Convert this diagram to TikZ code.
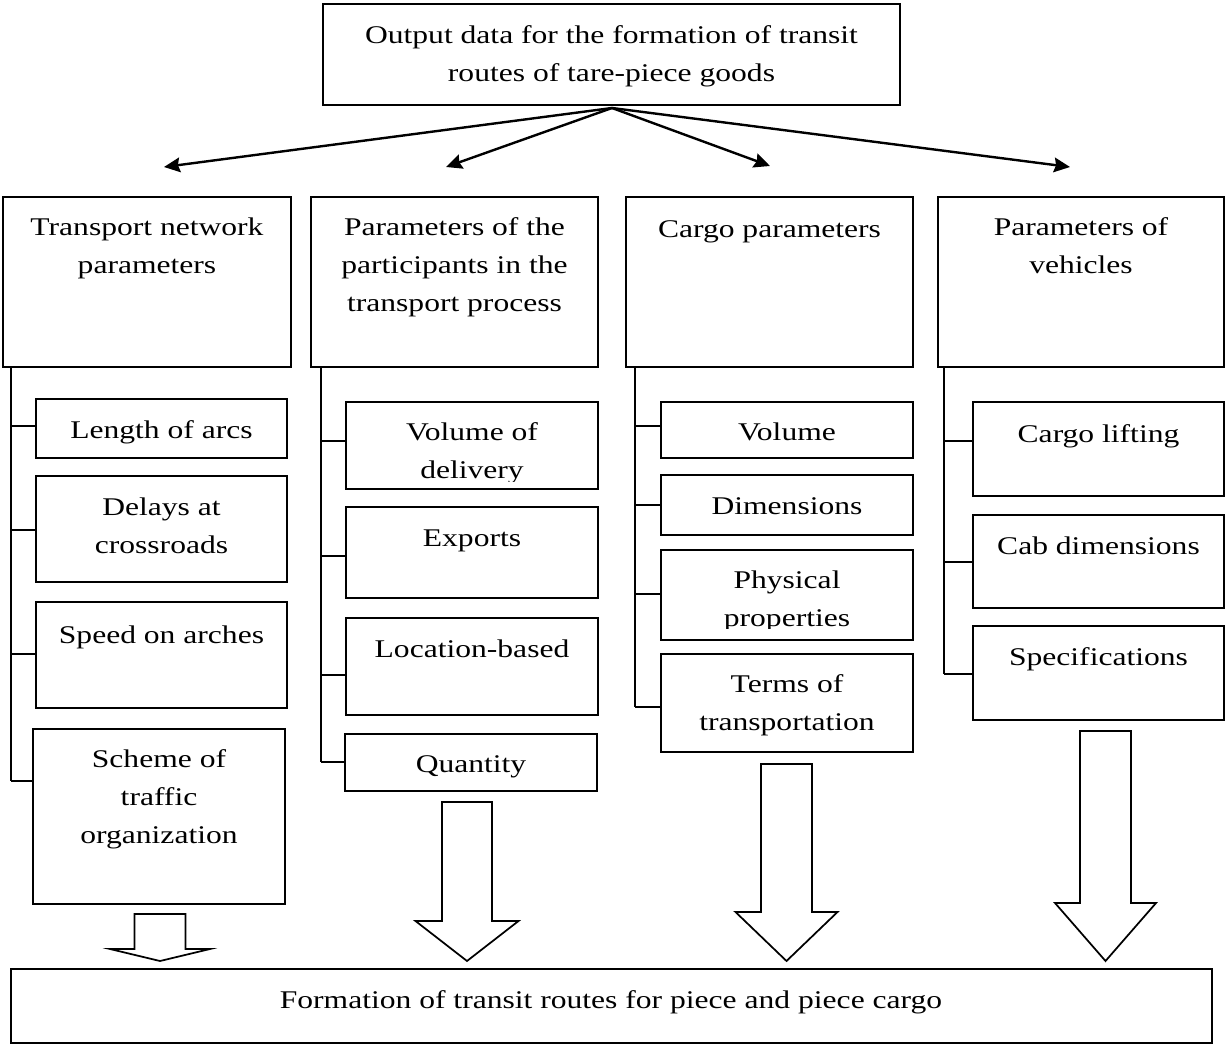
\documentclass[tikz,border=0pt]{standalone}
\usepackage{fontspec}
\setmainfont{Liberation Serif}[FakeStretch=1.24]
\usetikzlibrary{arrows.meta}
\tikzset{
  boxst/.style={draw, line width=1.2pt, inner sep=0pt, outer sep=0pt},
  txt/.style={inner sep=0pt, outer sep=0pt, align=center, font=\fontsize{19.1pt}{28.5pt}\selectfont},
  mainarrow/.style={line width=1.8pt, -{Stealth[length=12pt,width=11pt,inset=1.5pt]}},
  conn/.style={line width=1.2pt},
  blockarrow/.style={draw, line width=1.3pt, fill=white, line join=miter}
}
% #6 = baseline of the LAST text line
\newcommand{\mybox}[7]{%
  \node[boxst, anchor=north west, minimum width={(#4-#2)*0.75pt}, minimum height={(#5-#3)*0.75pt}] (#1) at (#2,#3) {};
  \node[txt, anchor=base] (#1t) at ({(#2+#4)/2},#6) {#7};}
\newcommand{\myboxclip}[8]{%
  \node[boxst, anchor=north west, minimum width={(#4-#2)*0.75pt}, minimum height={(#5-#3)*0.75pt}] (#1) at (#2,#3) {};
  \begin{scope}
    \clip (#2,#3) rectangle (#4,#8);
    \node[txt, anchor=base] (#1t) at ({(#2+#4)/2},#6) {#7};
  \end{scope}}
% xc, top, halfshaft, halfhead, headbase, tip
\newcommand{\myblockarrow}[6]{%
  \draw[blockarrow] ({#1-#3},#2) -- ({#1+#3},#2) -- ({#1+#3},#5) -- ({#1+#4},#5) -- (#1,#6) -- ({#1-#4},#5) -- ({#1-#3},#5) -- cycle;}
\begin{document}
\begin{tikzpicture}[x=0.75pt, y=-0.75pt]
\useasboundingbox (0,0) rectangle (1226,1044);
% top box
\mybox{top}{323}{4}{900}{105}{82}{Output data for the formation of transit\\routes of tare-piece goods}
% level 1
\mybox{p1}{3}{197}{291}{367}{274}{Transport network\\parameters}
\mybox{p2}{311}{197}{598}{367}{312}{Parameters of the\\participants in the\\transport process}
\mybox{p3}{626}{197}{913}{367}{238}{Cargo parameters}
\mybox{p4}{938}{197}{1224}{367}{274}{Parameters of\\vehicles}
% arrows from top
\coordinate (o) at (612,108);
\coordinate (h1) at (164,167);
\coordinate (h2) at (446,167);
\coordinate (h3) at (770,166);
\coordinate (h4) at (1070,167);
\draw[mainarrow] (o) -- (h1);
\draw[mainarrow] (o) -- (h2);
\draw[mainarrow] (o) -- (h3);
\draw[mainarrow] (o) -- (h4);
% column 1
\mybox{a1}{36}{399}{287}{458}{438}{Length of arcs}
\mybox{a2}{36}{476}{287}{582}{553}{Delays at\\crossroads}
\mybox{a3}{36}{602}{287}{708}{643}{Speed on arches}
\mybox{a4}{33}{729}{285}{904}{843}{Scheme of\\traffic\\organization}
\coordinate (t1) at (p1.south west -| 11,0);
\draw[conn] (t1) -- (11,781);
\draw[conn] (11,426) -- (a1.west |- 11,426);
\draw[conn] (11,530) -- (a2.west |- 11,530);
\draw[conn] (11,654) -- (a3.west |- 11,654);
\draw[conn] (11,781) -- (a4.west |- 11,781);
% column 2
\myboxclip{b1}{346}{402}{598}{489}{478}{Volume of\\delivery}{481}
\mybox{b2}{346}{507}{598}{598}{546}{Exports}
\mybox{b3}{346}{618}{598}{715}{657}{Location-based}
\mybox{b4}{345}{734}{597}{791}{772}{Quantity}
\coordinate (t2) at (p2.south west -| 321,0);
\draw[conn] (t2) -- (321,762);
\draw[conn] (321,441) -- (b1.west |- 321,441);
\draw[conn] (321,556) -- (b2.west |- 321,556);
\draw[conn] (321,675) -- (b3.west |- 321,675);
\draw[conn] (321,762) -- (b4.west |- 321,762);
% column 3
\mybox{c1}{661}{402}{913}{458}{440}{Volume}
\mybox{c2}{661}{475}{913}{535}{514}{Dimensions}
\myboxclip{c3}{661}{550}{913}{640}{626}{Physical\\properties}{628}
\mybox{c4}{661}{654}{913}{752}{730}{Terms of\\transportation}
\coordinate (t3) at (p3.south west -| 635,0);
\draw[conn] (t3) -- (635,707);
\draw[conn] (635,426) -- (c1.west |- 635,426);
\draw[conn] (635,505) -- (c2.west |- 635,505);
\draw[conn] (635,594) -- (c3.west |- 635,594);
\draw[conn] (635,707) -- (c4.west |- 635,707);
% column 4
\mybox{d1}{973}{402}{1224}{496}{442}{Cargo lifting}
\mybox{d2}{973}{515}{1224}{608}{554}{Cab dimensions}
\mybox{d3}{973}{626}{1224}{720}{665}{Specifications}
\coordinate (t4) at (p4.south west -| 944,0);
\draw[conn] (t4) -- (944,674);
\draw[conn] (944,441) -- (d1.west |- 944,441);
\draw[conn] (944,562) -- (d2.west |- 944,562);
\draw[conn] (944,674) -- (d3.west |- 944,674);
% bottom box
\node[boxst, anchor=north west, minimum width={(1212-11)*0.75pt}, minimum height={(1043-969)*0.75pt}] (bot) at (11,969) {};
\node[txt, anchor=base] (bott) at (611,1008) {Formation of transit routes for piece and piece cargo};
% block arrows
\myblockarrow{160}{914}{25.5}{50}{949}{961}
\myblockarrow{467}{802}{25}{51.5}{921}{961}
\myblockarrow{786.5}{764}{25.5}{51}{912}{961}
\myblockarrow{1105.5}{731}{25.5}{50.5}{903}{961}
\end{tikzpicture}
\end{document}
